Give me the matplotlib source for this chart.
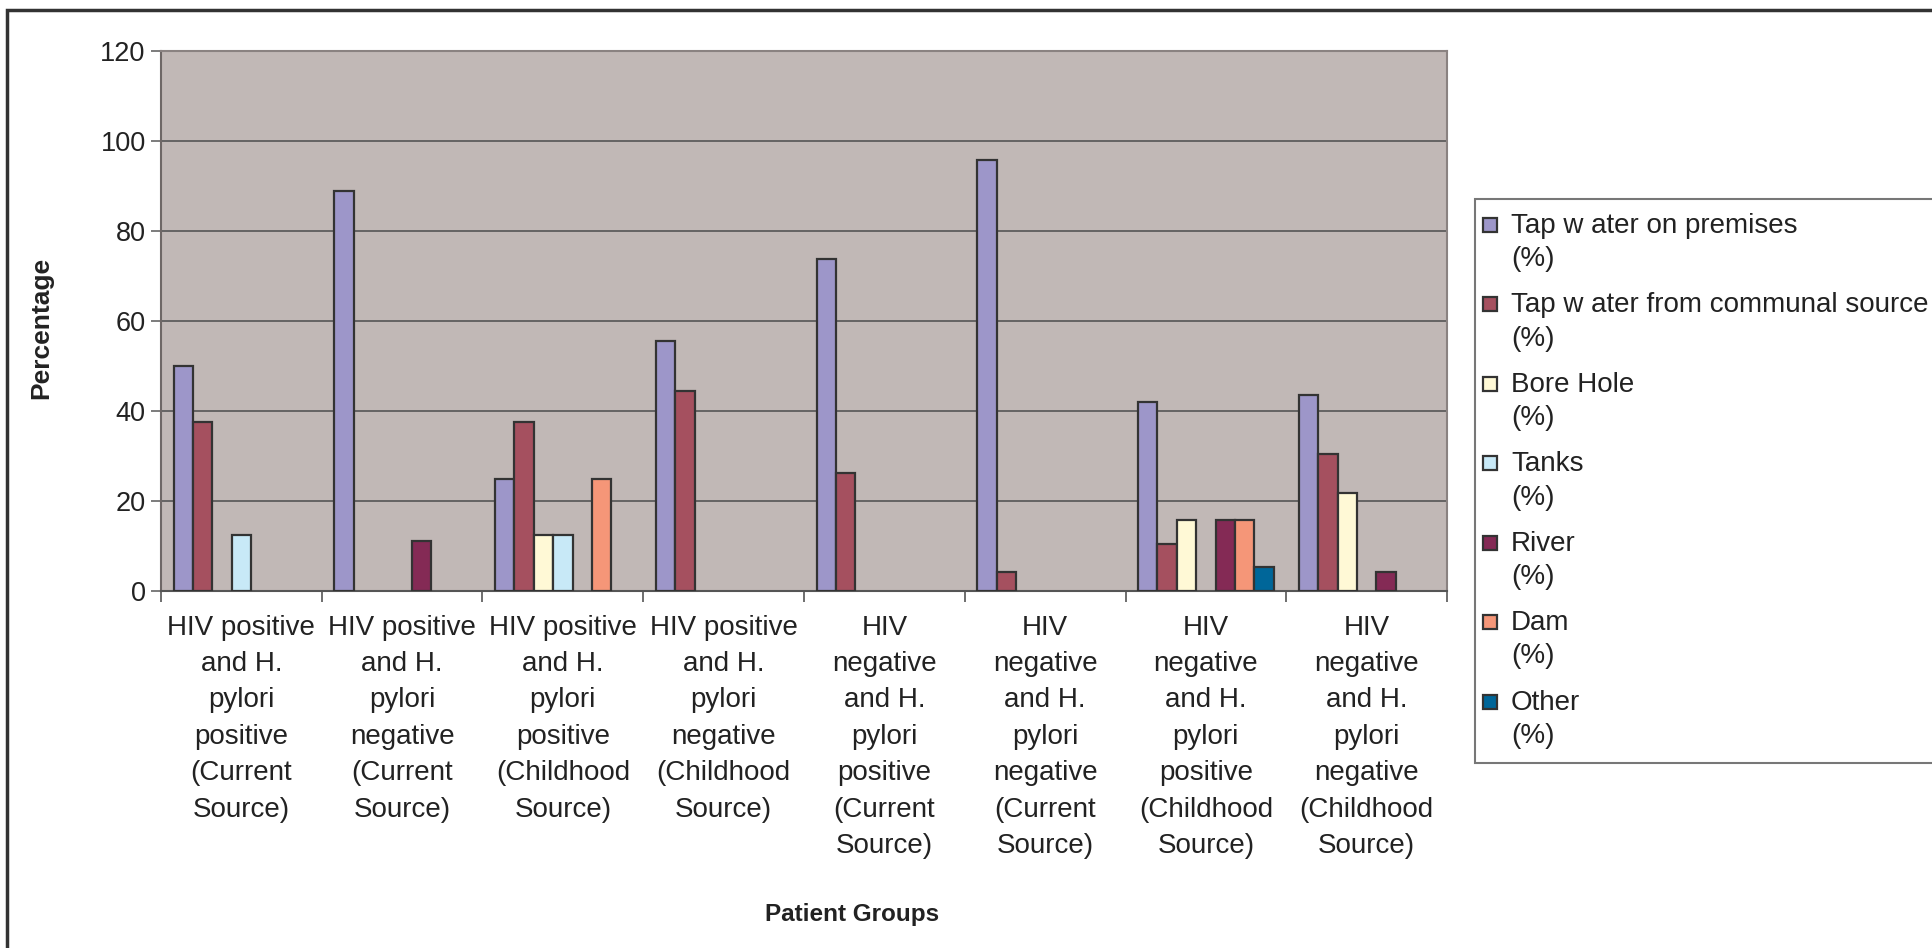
import numpy as np
import matplotlib
matplotlib.use('Agg')
from matplotlib import pyplot as plt
from matplotlib.patches import Rectangle
from matplotlib.legend_handler import HandlerPatch

plt.rcParams['font.family'] = ['Liberation Sans', 'DejaVu Sans']

groups = ['HIV positive\nand H.\npylori\npositive\n(Current\nSource)',
          'HIV positive\nand H.\npylori\nnegative\n(Current\nSource)',
          'HIV positive\nand H.\npylori\npositive\n(Childhood\nSource)',
          'HIV positive\nand H.\npylori\nnegative\n(Childhood\nSource)',
          'HIV\nnegative\nand H.\npylori\npositive\n(Current\nSource)',
          'HIV\nnegative\nand H.\npylori\nnegative\n(Current\nSource)',
          'HIV\nnegative\nand H.\npylori\npositive\n(Childhood\nSource)',
          'HIV\nnegative\nand H.\npylori\nnegative\n(Childhood\nSource)']

sources = ['Tap w ater on premises', 'Tap w ater from communal source', 'Bore Hole',
           'Tanks', 'River', 'Dam', 'Other']

tap_premises = [50.0, 88.9, 25.0, 55.6, 73.7, 95.7, 42.1, 43.5]
tap_communal = [37.5, 0, 37.5, 44.4, 26.3, 4.3, 10.5, 30.4]
bore_hole = [0, 0, 12.5, 0, 0, 0, 15.8, 21.7]
tanks = [12.5, 0, 12.5, 0, 0, 0, 0, 0]
river = [0, 11.1, 0, 0, 0, 0, 15.8, 4.3]
dam = [0, 0, 25.0, 0, 0, 0, 15.8, 0]
other = [0, 0, 0, 0, 0, 0, 5.3, 0]

series = [tap_premises, tap_communal, bore_hole, tanks, river, dam, other]
colors = ['#9D96C9', '#A5505F', '#FFF9D6', '#C8E9F7', '#842A55', '#F59678', '#006699']

fig = plt.figure(figsize=(19.33, 9.48), dpi=100)
ax = fig.add_axes([161/1933, 1-591/948, (1447-161)/1933, (591-51)/948])
ax.set_facecolor('#C1B8B6')

x = np.arange(len(groups))
w = 1/8.3
handles = []
for i, (vals, col) in enumerate(zip(series, colors)):
    v = np.array(vals, dtype=float)
    m = v > 0
    pos = x - 7*w/2 + w*(i+0.5)
    b = ax.bar(pos[m], v[m], w, color=col, edgecolor='#333333', linewidth=1.6, zorder=3)
    handles.append(b.patches[0])

ax.set_ylim(0, 120)
ax.set_xlim(-0.5, 7.5)
ax.set_yticks(range(0, 121, 20))
ax.grid(axis='y', color='#555555', linewidth=1.2, zorder=1)
ax.tick_params(axis='y', labelsize=19.5, length=7, width=1.2, color='#666666', pad=4, labelcolor='#222222')
ax.set_xticks(x)
ax.set_xticklabels(groups, fontsize=20, linespacing=1.52, color='#222222')
ax.tick_params(axis='x', length=0, pad=17)
ax.set_xticks(np.arange(-0.5, 8, 1), minor=True)
ax.tick_params(axis='x', which='minor', length=8, width=1.2, color='#555555')
for s in ['top', 'right']:
    ax.spines[s].set_color('#8A8281')
    ax.spines[s].set_linewidth(1.5)
ax.spines['left'].set_color('#6E6766')
ax.spines['left'].set_linewidth(1.5)
ax.spines['bottom'].set_color('#555555')
ax.spines['bottom'].set_linewidth(1.5)

fig.text(852/1933, 1-914/948, 'Patient Groups', fontsize=17.5, fontweight='bold',
         ha='center', va='center', color='#222222')
fig.text(41/1933, 1-328/948, 'Percentage', fontsize=19, fontweight='bold',
         ha='center', va='center', rotation=90, color='#222222')


# square sits beside the first line of each two-line label
def top_square(legend, orig_handle, xdescent, ydescent, width, height, fontsize):
    s = 0.5 * fontsize
    yc = -ydescent + height / 2 + 0.64 * fontsize
    return Rectangle((-xdescent - 4, yc - s / 2), s, s)


leg = fig.legend(handles, [s + '\n(%)' for s in sources], loc='upper left',
                 bbox_to_anchor=(1475/1933, 1-199/948), fontsize=20,
                 frameon=True, fancybox=False, edgecolor='#555555',
                 handlelength=0.5, handleheight=0.6, handletextpad=0.3,
                 labelspacing=0.73, borderpad=0.5, borderaxespad=0,
                 handler_map={Rectangle: HandlerPatch(patch_func=top_square)})
leg.get_frame().set_linewidth(1.5)
for t in leg.get_texts():
    t.set_linespacing(1.36)
    t.set_color('#222222')

fig.add_artist(Rectangle((7/1933, -0.1), 1.5, 1.1-10/948, transform=fig.transFigure,
                         fill=False, edgecolor='#333333', linewidth=2.5))

fig.savefig('out.png', dpi=100, facecolor='white')
